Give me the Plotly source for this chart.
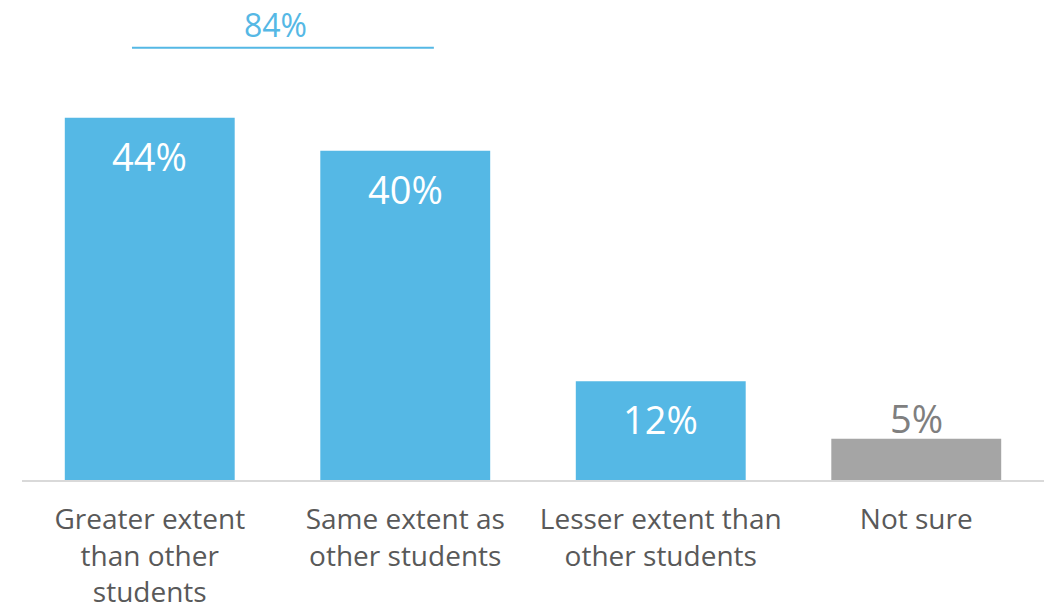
import plotly.graph_objects as go

# Survey responses: extent compared with other students
categories = ["Greater extent", "Same extent", "Lesser extent", "Not sure"]
tick_labels = [
    "Greater extent<br>than other<br>students",
    "Same extent as<br>other students",
    "Lesser extent than<br>other students",
    "Not sure",
]
values = [44, 40, 12, 5]

BLUE = "#55B8E5"
GREY = "#A5A5A5"
bar_colors = [BLUE, BLUE, BLUE, GREY]
FONT = "Open Sans"

fig = go.Figure(
    go.Bar(
        x=categories,
        y=values,
        marker=dict(color=bar_colors, line=dict(width=0)),
        hoverinfo="skip",
    )
)

# Value labels: white inside the blue bars, grey above the short grey bar
for cat, val, col in zip(categories, values, bar_colors):
    inside = col == BLUE
    fig.add_annotation(
        x=cat, y=val, text=f"{val}%", showarrow=False,
        xanchor="center", yanchor="middle", yshift=-38 if inside else 21,
        font=dict(family=FONT, size=38, color="white" if inside else "#7F7F7F"),
    )

# Combined share of the first two answers, shown over a bracket line
combined = values[0] + values[1]
fig.add_shape(
    type="line", xref="paper", yref="y",
    x0=0.1076, x1=0.403, y0=52.5, y1=52.5,
    line=dict(color=BLUE, width=2),
)
fig.add_annotation(
    xref="paper", yref="y", x=0.2485, y=55.3, text=f"{combined}%",
    showarrow=False, xanchor="center", yanchor="middle",
    font=dict(family=FONT, size=32, color=BLUE),
)

fig.update_layout(
    width=1045, height=612,
    margin=dict(l=22, r=1, t=0, b=132),
    paper_bgcolor="white", plot_bgcolor="white",
    bargap=0.335,
    showlegend=False,
    font=dict(family=FONT),
)
fig.update_xaxes(
    tickmode="array", tickvals=categories, ticktext=tick_labels,
    ticks="", showline=True, linecolor="#D9D9D9", linewidth=1.5,
    tickfont=dict(family=FONT, size=28, color="#595959"),
    ticklabelstandoff=14,
    range=[-0.5, 3.5],
)
fig.update_yaxes(visible=False, range=[0, 58.3])

fig.write_html("out.html")
